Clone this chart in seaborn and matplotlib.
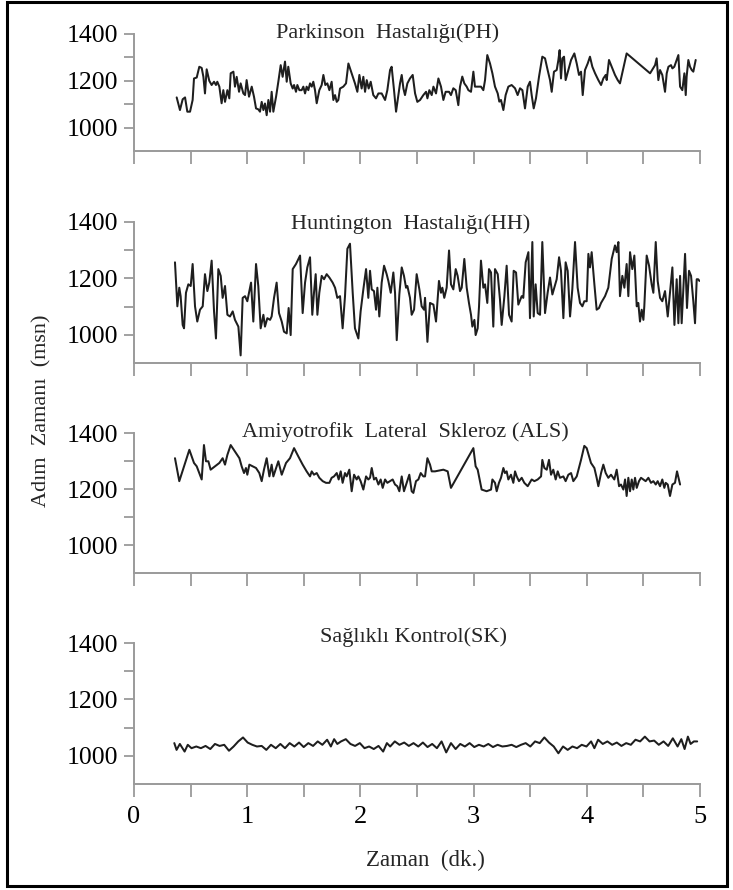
import matplotlib
matplotlib.use("Agg")
import matplotlib.pyplot as plt
import seaborn as sns
import pandas as pd
from matplotlib.patches import Rectangle
from matplotlib.ticker import MultipleLocator, FixedLocator

sns.set_style("ticks")
plt.rcParams['font.family'] = ['Liberation Serif', 'DejaVu Serif']

# ---------------- data ----------------
titles = ["Parkinson  Hastalığı(PH)", "Huntington  Hastalığı(HH)",
          "Amiyotrofik  Lateral  Skleroz (ALS)", "Sağlıklı Kontrol(SK)"]
x_label = "Zaman  (dk.)"
y_label = "Adım  Zamanı  (msn)"
y_ticks_major = [1000, 1200, 1400]
y_ticks_minor = [1100, 1300]
x_ticks = [0, 1, 2, 3, 4, 5]

ph_t = [0.377,0.406,0.430,0.451,0.471,0.495,0.518,0.530,0.554,0.577,
        0.598,0.613,0.627,0.642,0.665,0.686,0.707,0.724,0.736,0.754,
        0.774,0.789,0.804,0.825,0.842,0.854,0.878,0.892,0.907,0.928,
        0.942,0.966,0.981,0.995,1.016,1.040,1.060,1.078,1.098,1.113,
        1.128,1.143,1.157,1.172,1.187,1.202,1.216,1.231,1.255,1.275,
        1.296,1.313,1.334,1.349,1.363,1.384,1.402,1.414,1.431,1.443,
        1.461,1.481,1.496,1.511,1.525,1.540,1.555,1.570,1.584,1.599,
        1.614,1.637,1.658,1.673,1.690,1.708,1.726,1.746,1.761,1.776,
        1.791,1.805,1.820,1.849,1.873,1.894,1.923,1.952,1.973,1.991,
        2.011,2.026,2.041,2.056,2.073,2.091,2.114,2.138,2.159,2.188,
        2.218,2.238,2.262,2.276,2.297,2.315,2.335,2.350,2.365,2.380,
        2.394,2.415,2.438,2.462,2.483,2.503,2.527,2.556,2.580,2.592,
        2.609,2.630,2.645,2.668,2.689,
        2.712,2.733,2.753,2.783,2.800,2.821,2.842,2.865,2.880,2.900,
        2.918,2.939,2.954,2.977,2.998,3.012,3.042,3.065,3.086,3.101,
        3.121,3.145,3.166,3.189,3.213,3.227,3.242,3.263,3.283,3.307,
        3.336,3.366,3.389,3.410,3.431,3.454,3.478,3.498,3.513,3.531,
        3.551,3.578,3.607,3.631,3.654,3.675,3.690,3.710,3.734,3.749,
        3.760,3.772,3.784,3.799,3.813,3.837,3.861,3.890,3.911,3.931,
        3.949,3.964,3.984,4.008,4.028,4.049,4.073,4.102,4.126,4.146,
        4.167,4.176,4.196,4.220,4.249,4.273,4.293,4.323,4.352,4.559,
        4.603,4.617,4.632,4.647,4.667,4.691,4.706,4.721,4.744,4.756,
        4.773,4.794,4.809,4.824,4.844,4.862,4.874,4.882,4.897,4.912,
        4.927,4.941,4.962]
ph_v = [1129,1075,1121,1129,1068,1068,1118,1210,1214,1260,
        1255,1217,1146,1249,1200,1182,1196,1182,1196,1175,
        1104,1160,1110,1160,1125,1232,1239,1175,1217,1153,
        1189,1146,1139,1203,1132,1175,1132,1082,1078,1068,
        1110,1075,1103,1053,1118,1068,1153,1068,1132,1196,
        1267,1217,1282,1196,1260,1189,1167,1182,1153,1182,
        1160,1160,1175,1146,1175,1160,1189,1175,1196,1160,
        1104,1160,1182,1225,1182,1189,1160,1196,1118,1139,
        1110,1118,1167,1175,1189,1274,1232,1189,1153,1225,
        1167,1217,1153,1203,1167,1196,1139,1125,1146,1146,
        1118,1160,1246,1260,1160,1068,1139,1189,1225,1167,
        1139,1189,1210,1225,1146,1110,1118,1139,1153,1125,
        1160,1139,1175,1146,1210,
        1175,1118,1153,1153,1139,1168,1160,1096,1175,1218,
        1189,1175,1160,1153,1239,1175,1175,1175,1160,1203,
        1310,1274,1232,1175,1146,1111,1118,1075,1139,1175,
        1182,1168,1139,1168,1160,1082,1175,1196,1139,1082,
        1125,1218,1303,1296,1246,1203,1153,1239,1246,1289,
        1331,1210,1296,1303,1203,1246,1289,1317,1274,1225,
        1239,1139,1246,1274,1303,1260,1232,1203,1182,1210,
        1225,1203,1289,1260,1225,1203,1189,1253,1317,1232,
        1267,1296,1203,1246,1225,1153,1232,1260,1267,1253,
        1260,1289,1310,1175,1160,1232,1139,1218,1289,1260,
        1246,1239,1289]

hh_t = [0.362,0.383,0.400,0.412,0.430,0.442,0.459,0.480,0.501,0.518,
        0.539,0.559,0.583,0.607,0.627,0.648,0.665,0.686,0.707,0.724,
        0.745,0.766,0.783,0.804,0.825,0.848,0.872,0.892,0.907,0.922,
        0.942,0.960,0.981,1.001,1.034,1.054,1.078,1.098,1.119,1.143,
        1.157,1.178,1.202,1.216,1.237,1.260,1.281,1.305,1.325,1.349,
        1.366,1.384,1.402,1.431,1.467,1.490,1.511,1.531,1.555,1.575,
        1.590,1.605,1.620,1.637,1.658,1.679,1.702,1.726,1.755,1.776,
        1.796,1.820,1.843,1.864,1.885,1.908,1.932,1.952,1.982,2.002,
        2.026,2.050,2.070,2.085,2.100,2.120,2.138,2.150,2.167,2.188,
        2.209,2.232,2.247,2.268,2.291,2.306,2.321,2.344,2.365,2.385,
        2.403,2.415,2.438,2.453,2.474,2.497,2.521,2.541,2.562,2.571,
        2.592,2.615,2.645,2.668,
        2.694,2.712,2.724,2.741,2.762,2.783,2.800,2.821,2.842,2.859,
        2.880,2.895,2.918,2.939,2.959,2.977,2.989,3.007,3.018,3.036,
        3.048,3.065,3.086,3.101,3.121,3.136,3.154,3.174,3.189,3.213,
        3.233,3.248,3.272,3.292,3.313,3.336,3.354,3.375,3.395,3.425,
        3.439,3.460,3.484,3.498,3.519,3.531,3.548,3.566,3.587,3.607,
        3.631,3.654,3.675,3.696,3.713,3.734,3.755,3.772,3.793,3.813,
        3.831,3.852,3.872,3.896,3.919,3.940,3.961,3.978,3.999,4.014,
        4.028,4.043,4.067,4.087,4.108,4.126,4.161,4.190,4.220,4.235,
        4.249,4.264,4.279,4.293,4.314,4.332,4.352,4.367,4.382,4.402,
        4.420,4.441,4.455,4.470,4.485,4.500,4.508,4.529,4.550,4.573,
        4.588,4.609,4.626,4.647,4.667,4.691,4.715,4.735,4.756,4.774,
        4.794,4.809,4.824,4.838,4.853,4.868,4.885,4.903,4.921,4.941,
        4.956,4.971,4.984,4.995]
hh_v = [1257,1101,1167,1137,1035,1023,1149,1179,1173,1251,
        1101,1047,1089,1101,1215,1155,1185,1263,1083,987,
        1233,1209,1131,1173,1071,1065,1083,1053,1041,1029,
        927,1131,1137,1119,1185,1047,1251,1173,1023,1071,
        1029,1059,1053,1065,1131,1185,1077,1047,1011,1005,
        1095,999,1233,1251,1281,1077,1185,1239,1275,1071,
        1149,1215,1071,1149,1209,1197,1215,1203,1185,1167,
        1131,1137,1023,1137,1305,1323,1149,1023,987,1083,
        1161,1233,1131,1227,1161,1155,1089,1167,1065,1185,
        1245,1215,1191,1149,1221,1149,981,1143,1239,1209,
        1167,1173,1131,1071,1089,1215,1161,1101,1089,1131,
        975,1113,1107,1047,
        1191,1149,1167,1131,1167,1299,1179,1161,1233,1209,
        1155,1167,1269,1167,1113,1071,1029,1053,999,1023,
        1101,1263,1167,1179,1113,1233,1221,1029,1233,1215,
        1125,1035,1137,1245,1071,1047,1227,1221,1107,1137,
        1131,1257,1293,1059,1329,1065,1179,1077,1071,1329,
        1077,1149,1203,1143,1167,1197,1275,1227,1059,1257,
        1227,1065,1161,1329,1167,1113,1101,1119,1119,1287,
        1239,1293,1179,1089,1095,1113,1137,1167,1269,1293,
        1317,1293,1329,1137,1209,1167,1251,1137,1293,1233,
        1281,1101,1113,1047,1089,1053,1101,1281,1245,1179,
        1149,1329,1191,1131,1119,1155,1065,1149,1239,1035,
        1197,1041,1209,1041,1161,1287,1095,1227,1209,1119,
        1041,1197,1197,1191]

als_t = [0.362,0.400,0.442,0.489,0.530,0.554,0.577,0.598,0.618,0.636,
         0.657,0.677,0.716,0.754,0.783,0.804,0.825,0.854,0.892,0.931,
         0.951,0.972,0.989,1.001,1.019,1.048,1.078,1.107,1.128,1.148,
         1.172,1.196,1.216,1.231,1.255,1.275,1.305,1.343,1.378,1.414,
         1.452,1.490,1.525,1.555,1.570,1.590,1.614,1.637,1.667,1.696,
         1.726,1.746,1.767,1.791,1.808,1.826,1.843,1.864,1.879,1.902,
         1.923,1.944,1.967,1.982,2.002,2.026,2.050,2.070,2.085,2.100,
         2.120,2.138,2.159,2.179,2.197,2.218,2.238,2.262,2.285,2.306,
         2.326,2.344,2.365,2.385,2.409,2.432,2.453,2.468,2.491,2.512,
         2.533,2.556,2.571,2.592,2.615,2.630,2.659,
         2.733,2.771,2.800,2.998,3.018,3.036,3.071,3.115,3.154,3.166,
         3.189,3.204,3.224,3.242,3.263,3.277,3.292,3.307,3.330,3.351,
         3.366,3.381,3.401,3.425,3.448,3.478,3.513,3.537,3.566,3.596,
         3.607,3.625,3.646,3.666,3.684,3.704,3.725,3.743,3.763,3.793,
         3.813,3.837,3.861,3.881,3.911,3.949,3.978,3.999,4.020,4.037,
         4.067,4.087,4.102,4.126,4.146,4.167,4.190,4.214,4.243,4.264,
         4.285,4.302,4.323,4.338,4.352,4.367,4.382,4.397,4.411,4.426,
         4.441,4.461,4.479,4.500,4.520,4.544,4.567,4.588,4.609,4.626,
         4.647,4.667,4.685,4.697,4.715,4.735,4.756,4.779,4.797,4.824]
als_v = [1310,1228,1281,1340,1293,1281,1257,1234,1357,1299,
         1299,1269,1281,1293,1310,1287,1322,1357,1334,1310,
         1281,1257,1275,1251,1287,1281,1275,1257,1228,1269,
         1310,1245,1287,1245,1275,1299,1251,1293,1310,1346,
         1316,1287,1263,1245,1263,1251,1257,1240,1228,1222,
         1222,1240,1245,1257,1234,1263,1222,1257,1245,1269,
         1192,1251,1234,1245,1228,1198,1245,1234,1240,1275,
         1234,1240,1216,1234,1204,1234,1222,1228,1234,1216,
         1210,1192,1245,1192,1222,1251,1192,1186,1228,1234,
         1257,1245,1245,1310,1287,1263,1263,
         1269,1263,1204,1346,1281,1269,1198,1192,1198,1234,
         1222,1192,1222,1240,1275,1257,1263,1234,1251,1222,
         1263,1245,1228,1240,1222,1210,1234,1228,1234,1245,
         1304,1275,1269,1304,1251,1269,1234,1263,1240,1245,
         1228,1251,1257,1228,1245,1304,1354,1346,1316,1293,
         1275,1240,1210,1257,1287,1257,1240,1251,1234,1269,
         1210,1216,1198,1234,1175,1240,1192,1234,1198,1240,
         1204,1228,1240,1234,1228,1240,1222,1228,1216,1228,
         1210,1234,1204,1222,1216,1175,1216,1222,1263,1216]

sk_t = [0.356,0.376,0.405,0.447,0.475,0.508,0.550,0.591,0.632,0.674,
        0.715,0.756,0.797,0.839,0.880,0.921,0.963,1.004,1.045,1.086,
        1.128,1.169,1.210,1.252,1.293,1.334,1.375,1.417,1.458,1.499,
        1.540,1.582,1.623,1.664,1.706,1.739,1.768,1.796,1.829,1.871,
        1.912,1.953,1.995,2.036,2.077,2.118,2.160,2.201,2.234,2.263,
        2.304,2.345,2.387,2.428,2.469,2.511,2.552,2.593,2.634,2.676,
        2.717,2.758,2.800,2.841,2.882,2.923,2.965,3.006,3.047,3.089,
        3.130,3.171,3.212,3.254,3.295,3.336,3.377,3.419,3.460,3.501,
        3.543,3.584,3.625,3.666,3.708,3.749,3.790,3.831,3.873,3.914,
        3.955,3.997,4.038,4.067,4.100,4.141,4.182,4.224,4.265,4.306,
        4.348,4.389,4.430,4.471,4.513,4.554,4.595,4.636,4.678,4.719,
        4.760,4.802,4.835,4.864,4.893,4.917,4.946,4.975]
sk_v = [1045,1021,1042,1015,1039,1027,1033,1027,1035,1024,
        1042,1035,1039,1018,1033,1051,1065,1047,1039,1033,
        1035,1021,1039,1027,1042,1027,1045,1033,1047,1031,
        1045,1035,1051,1039,1057,1033,1059,1042,1051,1059,
        1042,1035,1045,1027,1033,1024,1035,1015,1045,1033,
        1051,1039,1047,1035,1045,1033,1047,1031,1042,1027,
        1051,1012,1045,1024,1042,1033,1045,1031,1039,1033,
        1042,1031,1039,1033,1035,1039,1031,1039,1045,1033,
        1051,1045,1065,1047,1033,1009,1033,1021,1033,1027,
        1039,1033,1051,1027,1057,1042,1051,1039,1047,1035,
        1045,1039,1057,1051,1068,1051,1054,1039,1051,1035,
        1062,1033,1059,1024,1068,1042,1051,1051]

series = [(ph_t, ph_v), (hh_t, hh_v), (als_t, als_v), (sk_t, sk_v)]

# ---------------- layout ----------------
W, H = 733, 890
fig = plt.figure(figsize=(W / 100, H / 100), dpi=100)

left = 134 / W
width = 566 / W
panel_px = [(34, 151), (222, 363), (433, 573), (643, 784)]   # (top, bottom) in px
title_pos = [(388, 38), (411, 229), (405, 437), (413, 642)]  # (center x, baseline y) in px

axis_col = '#9a9a9a'
line_col = '#1e1e1e'

for i, ((t, v), (top, bot), title) in enumerate(zip(series, panel_px, titles)):
    ax = fig.add_axes([left, 1 - bot / H, width, (bot - top) / H])
    df = pd.DataFrame({'t': t, 'v': v})
    sns.lineplot(data=df, x='t', y='v', ax=ax, color=line_col, linewidth=1.45,
                 estimator=None, sort=False)
    ax.set_xlim(0, 5)
    ax.set_ylim(900, 1400)
    ax.set_xlabel('')
    ax.set_ylabel('')
    for s in ['top', 'right']:
        ax.spines[s].set_visible(False)
    for s in ['left', 'bottom']:
        ax.spines[s].set_color(axis_col)
        ax.spines[s].set_linewidth(1.4)
    ax.yaxis.set_major_locator(FixedLocator(y_ticks_major))
    ax.yaxis.set_minor_locator(FixedLocator(y_ticks_minor))
    ax.xaxis.set_major_locator(FixedLocator(x_ticks))
    ax.xaxis.set_minor_locator(MultipleLocator(0.5))
    ax.tick_params(axis='y', which='both', direction='out', length=7.5, width=1.3,
                   color=axis_col, labelsize=18.5, pad=4, labelcolor='black')
    ax.tick_params(axis='x', which='both', direction='out', length=9.5, width=1.3,
                   color=axis_col, labelsize=19, pad=6, labelcolor='black')
    if i < 3:
        ax.tick_params(axis='x', labelbottom=False)
    ax.patch.set_alpha(0)
    cx, by = title_pos[i]
    fig.text(cx / W, 1 - by / H, title, ha='center', va='baseline', fontsize=16)

fig.text(42 / W, 1 - 411 / H, y_label, rotation=90, ha='center', va='center', fontsize=16)
fig.text(425 / W, 1 - 860 / H, x_label, ha='center', va='center', fontsize=16.5)

fig.patches.append(Rectangle((7 / W, 4 / H), 720 / W, 884 / H, transform=fig.transFigure,
                             fill=False, edgecolor='black', linewidth=2.2))

fig.savefig('out.png', dpi=100)
